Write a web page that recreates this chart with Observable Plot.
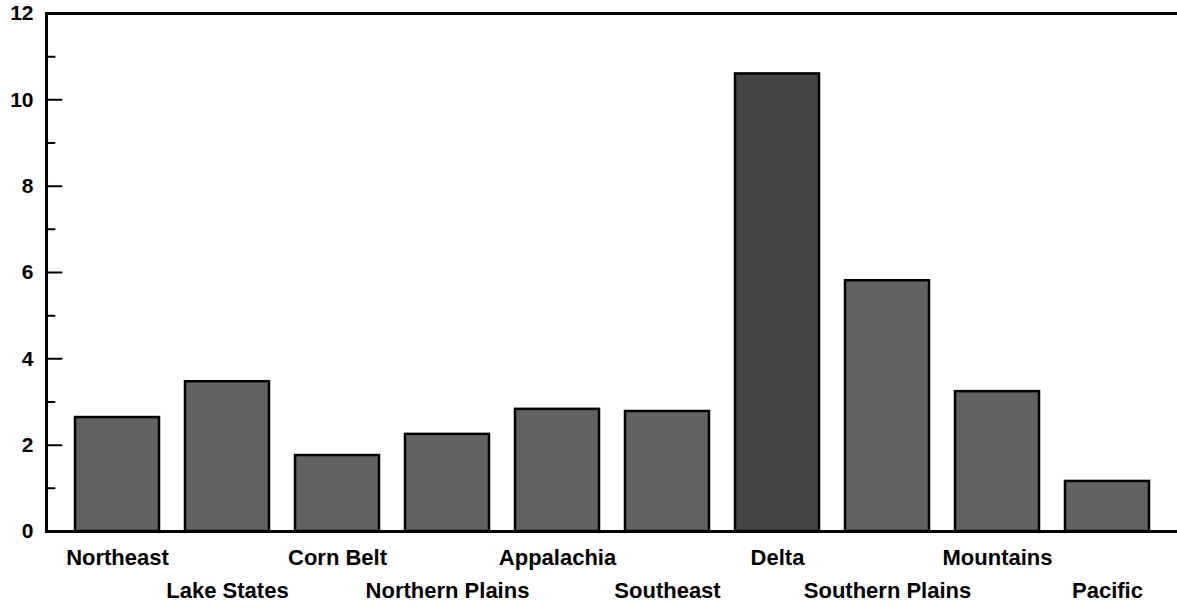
<!DOCTYPE html>
<html>
<head>
<meta charset="utf-8">
<script src="https://cdn.jsdelivr.net/npm/d3@7"></script>
<script src="https://cdn.jsdelivr.net/npm/@observablehq/plot@0.6"></script>
<style>
  html, body { margin: 0; padding: 0; background: #fff; }
  #chart svg { display: block; }
</style>
</head>
<body>
<div id="chart"></div>
<script>
const regions = ["Northeast", "Lake States", "Corn Belt", "Northern Plains", "Appalachia",
                 "Southeast", "Delta", "Southern Plains", "Mountains", "Pacific"];
const values = [2.64, 3.47, 1.76, 2.25, 2.83, 2.78, 10.6, 5.81, 3.24, 1.16];
const majorTicks = [0, 2, 4, 6, 8, 10, 12];
const minorTicks = [1, 3, 5, 7, 9, 11];

const data = regions.map((r, i) => ({region: r, value: values[i], row: i % 2}));

const font = "'Liberation Sans', Arial, Helvetica, sans-serif";
const lineShape = {draw(context, l) { context.moveTo(0, 0); context.lineTo(0, -l); }};

const plot = Plot.plot({
  width: 1177,
  height: 610,
  marginTop: 13,
  marginBottom: 79,
  marginLeft: 46,
  marginRight: 0,
  style: {fontFamily: font, background: "#fff", color: "#000"},
  x: {domain: regions, padding: 0.24, axis: null},
  y: {domain: [0, 12], axis: null},
  marks: [
    Plot.barY(data, {
      x: "region", y: "value",
      fill: d => d.region === "Delta" ? "#454545" : "#626262",
      stroke: "#000", strokeWidth: 2.5
    }),
    Plot.frame({anchor: "left", strokeWidth: 3}),
    Plot.frame({anchor: "top", strokeWidth: 3}),
    Plot.ruleY([0], {strokeWidth: 3}),
    Plot.vector(majorTicks, {y: d => d, frameAnchor: "left", rotate: 90, length: 15, anchor: "start",
      shape: lineShape, strokeWidth: 2, stroke: "#000"}),
    Plot.vector(minorTicks, {y: d => d, frameAnchor: "left", rotate: 90, length: 8, anchor: "start",
      shape: lineShape, strokeWidth: 2, stroke: "#000"}),
    Plot.text(majorTicks, {y: d => d, text: d => String(d), frameAnchor: "left", textAnchor: "end", dx: -13,
      fontSize: 21, fontWeight: "bold", fill: "#000"}),
    Plot.text(data.filter(d => d.row === 0), {x: "region", y: 0, text: "region", dy: 26,
      fontSize: 22, fontWeight: "bold", fill: "#000"}),
    Plot.text(data.filter(d => d.row === 1), {x: "region", y: 0, text: "region", dy: 59,
      fontSize: 22, fontWeight: "bold", fill: "#000"})
  ]
});
document.getElementById("chart").appendChild(plot);
</script>
</body>
</html>
